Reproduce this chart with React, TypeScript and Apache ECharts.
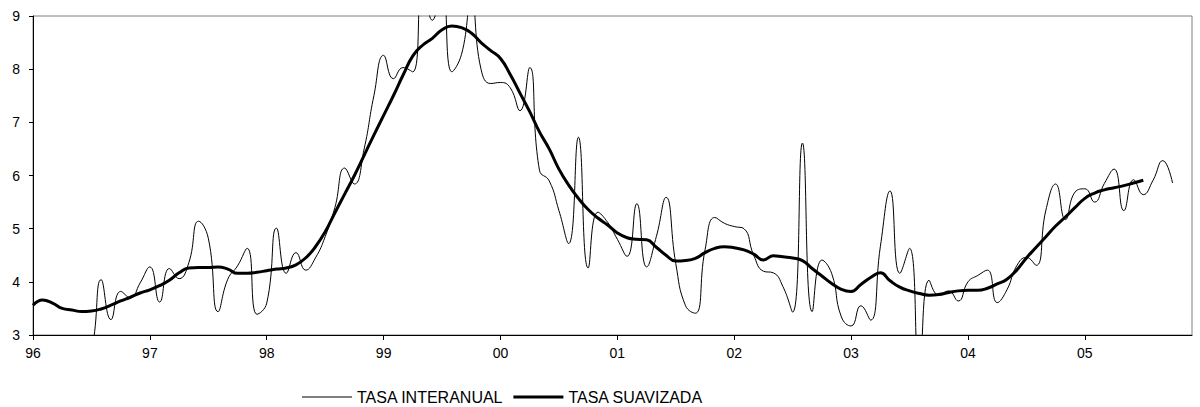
import React, { useEffect, useRef } from "react";
import * as echarts from "echarts";

const years = ["96", "97", "98", "99", "00", "01", "02", "03", "04", "05"];
const monthsPerYear = 12;

// TASA INTERANUAL (monthly, Jan 96 = index 0); null = not shown
const tasaInteranual: (number | null)[] = [
  null, null, null, null, null, 2.4, 2.7, 4.04, 3.29, 3.82, 3.7, 3.98,
  4.28, 3.62, 4.25, 4.06, 4.36, 5.14, 4.82, 3.44, 4.05, 4.3, 4.63, 3.39,
  3.6, 5.01, 4.16, 4.55, 4.22, 4.45, 4.85, 5.4, 6.14, 5.84, 6.5, 7.5,
  8.26, 7.82, 8.03, 7.95, 9.6, 8.92, 9.6, 7.95, 8.28, 9.3, 8.0, 7.73,
  7.75, 7.65, 7.22, 8.03, 6.1, 5.9, 5.34, 4.72, 6.72, 4.26, 5.31, 5.12,
  4.8, 4.48, 5.47, 4.28, 4.85, 5.59, 4.34, 3.55, 3.41, 4.6, 5.21, 5.1,
  5.04, 5.0, 4.5, 4.2, 4.17, 3.91, 3.43, 6.61, 3.44, 4.41, 4.16, 3.34,
  3.17, 3.55, 3.28, 4.66, 5.71, 4.16, 4.63, 2.3, 4.03, 3.75, 3.83, 3.64,
  4.0, 4.12, 4.22, 3.61, 3.85, 4.3, 4.46, 4.31, 5.35, 5.84, 5.17, 5.69,
  5.75, 5.5, 5.85, 6.12, 5.34, 5.92, 5.64, 5.91, 6.28, 5.86,
];

// TASA SUAVIZADA (monthly, Jan 96 = index 0)
const tasaSuavizada: number[] = [
  3.56, 3.66, 3.6, 3.5, 3.47, 3.44, 3.45, 3.49, 3.56, 3.64, 3.71, 3.79,
  3.85, 3.93, 4.03, 4.17, 4.26, 4.27, 4.27, 4.28, 4.24, 4.16, 4.16, 4.18,
  4.21, 4.24, 4.26, 4.32, 4.45, 4.66, 4.94, 5.3, 5.65, 6.0, 6.38, 6.76,
  7.13, 7.5, 7.89, 8.25, 8.45, 8.58, 8.74, 8.81, 8.78, 8.68, 8.5, 8.35,
  8.2, 7.9, 7.55, 7.2, 6.82, 6.5, 6.12, 5.82, 5.57, 5.36, 5.2, 5.07,
  4.92, 4.83, 4.8, 4.79, 4.65, 4.5, 4.39, 4.4, 4.44, 4.55, 4.63, 4.66,
  4.64, 4.6, 4.52, 4.41, 4.49, 4.47, 4.45, 4.4, 4.25, 4.11, 3.97, 3.86,
  3.82, 3.95, 4.08, 4.17, 4.02, 3.9, 3.83, 3.78, 3.75, 3.76, 3.8, 3.83,
  3.84, 3.84, 3.88, 3.96, 4.05, 4.22, 4.45, 4.65, 4.85, 5.05, 5.22, 5.4,
  5.57, 5.67, 5.73, 5.77, 5.81, 5.86, 5.91,
];

const yMin = 3;
const yMax = 9;

const categories: string[] = [];
years.forEach((y) => {
  for (let m = 1; m <= monthsPerYear; m++) categories.push(y + "-" + m);
});

const FONT = "'Liberation Sans', Arial, sans-serif";

export default function App() {
  const ref = useRef<HTMLDivElement>(null);
  useEffect(() => {
    if (!ref.current) return;
    const chart = echarts.init(ref.current, undefined, { renderer: "svg" });
    chart.setOption({
      animation: false,
      backgroundColor: "#ffffff",
      grid: {
        left: 33,
        right: 8,
        top: 16,
        bottom: 72,
        show: true,
        borderColor: "#808080",
        borderWidth: 1,
        backgroundColor: "#ffffff",
      },
      legend: {
        top: 389,
        left: 302,
        padding: 0,
        itemWidth: 50,
        itemHeight: 10,
        itemGap: 10,
        textStyle: { fontFamily: FONT, fontSize: 16, color: "#000" },
        data: [
          { name: "TASA INTERANUAL", icon: "path://M0,0H50V1H0Z" },
          { name: "TASA SUAVIZADA", icon: "path://M0,0H50V3H0Z" },
        ],
      },
      xAxis: {
        type: "category",
        data: categories,
        boundaryGap: false,
        axisLine: { lineStyle: { color: "#000", width: 1 } },
        axisTick: {
          show: true,
          interval: (i: number) => i % monthsPerYear === 0,
          length: 5,
          lineStyle: { color: "#000" },
        },
        axisLabel: {
          interval: (i: number) => i % monthsPerYear === 0,
          margin: 11,
          fontFamily: FONT,
          fontSize: 14,
          color: "#000",
          formatter: (v: string) => v.split("-")[0],
        },
        splitLine: { show: false },
      },
      yAxis: {
        type: "value",
        min: yMin,
        max: yMax,
        interval: 1,
        axisLine: { show: true, lineStyle: { color: "#000", width: 1 } },
        axisTick: { show: true, length: 4, lineStyle: { color: "#000" } },
        axisLabel: { margin: 13, fontFamily: FONT, fontSize: 14, color: "#000" },
        splitLine: { show: false },
      },
      series: [
        {
          name: "TASA INTERANUAL",
          type: "line",
          data: tasaInteranual,
          smooth: 0.5,
          symbol: "none",
          clip: true,
          lineStyle: { color: "#000", width: 1 },
          itemStyle: { color: "#000" },
        },
        {
          name: "TASA SUAVIZADA",
          type: "line",
          data: tasaSuavizada,
          smooth: 0.5,
          symbol: "none",
          clip: true,
          lineStyle: { color: "#000", width: 3 },
          itemStyle: { color: "#000" },
        },
      ],
    });
    return () => chart.dispose();
  }, []);
  return (
    <div
      ref={ref}
      style={{ position: "fixed", left: 0, top: 0, width: 1200, height: 407 }}
    />
  );
}
